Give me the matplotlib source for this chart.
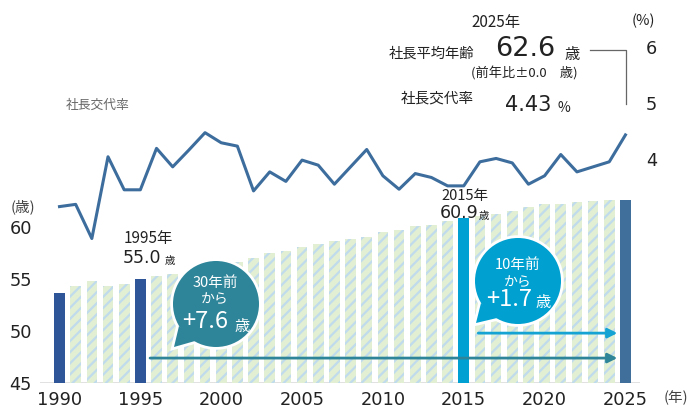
import matplotlib
matplotlib.use("Agg")
import matplotlib.pyplot as plt
from matplotlib.patches import Circle, Polygon

plt.rcParams['font.family'] = ['Noto Sans CJK JP', 'DejaVu Sans']
plt.rcParams['hatch.linewidth'] = 1.6

# ---------------- data ----------------
years = list(range(1990, 2026))
avg_age = [53.7, 54.3, 54.8, 54.3, 54.5, 55.0, 55.3, 55.5, 55.8, 56.0,
           56.3, 56.6, 57.0, 57.5, 57.7, 58.1, 58.4, 58.7, 58.9, 59.1,
           59.5, 59.7, 60.1, 60.2, 60.6, 60.9, 61.1, 61.3, 61.6, 61.9,
           62.2, 62.2, 62.4, 62.5, 62.6, 62.6]
turnover_rate = [3.15, 3.19, 2.58, 4.04, 3.45, 3.45, 4.19, 3.86, 4.16, 4.47,
                 4.29, 4.23, 3.43, 3.77, 3.60, 3.98, 3.89, 3.55, 3.86, 4.17,
                 3.70, 3.46, 3.74, 3.67, 3.52, 3.52, 3.95, 4.01, 3.93, 3.55,
                 3.70, 4.08, 3.77, 3.86, 3.95, 4.43]
highlight = {1990: '#2e5597', 1995: '#2e5597', 2015: '#00a0d3', 2025: '#3f6f9a'}
age_ticks = [45, 50, 55, 60]
rate_ticks = [4, 5, 6]
year_ticks = [1990, 1995, 2000, 2005, 2010, 2015, 2020, 2025]

# ---------------- figure ----------------
W, H = 689, 409
fig = plt.figure(figsize=(W / 100, H / 100), dpi=100)
L, R, B, T = 40, 640, 383, 20
ax = fig.add_axes([L / W, (H - B) / H, (R - L) / W, (B - T) / H])
px_per_year = 16.17
x0 = 1990 + (L - 59.5) / px_per_year
x1 = 1990 + (R - 59.5) / px_per_year
ax.set_xlim(x0, x1)
age_px = 10.39
ax.set_ylim(45, 45 + (B - T) / age_px)

for y, a in zip(years, avg_age):
    if y in highlight:
        ax.bar(y, a, width=0.66, color=highlight[y], zorder=2)
    else:
        ax.bar(y, a, width=0.66, facecolor='#e2efd3', edgecolor='#c0dbec',
               hatch='///', linewidth=0, zorder=2)

ax.axhline(45, color='#dedede', lw=2, zorder=1)

for s in ax.spines.values():
    s.set_visible(False)
ax.set_yticks(age_ticks)
ax.set_yticklabels([str(t) for t in age_ticks], family='DejaVu Sans', fontsize=12.8, color='#222222')
ax.set_xticks(year_ticks)
ax.set_xticklabels([str(t) for t in year_ticks], family='DejaVu Sans', fontsize=12.8, color='#222222')
ax.tick_params(axis='y', length=0, pad=5.8)
ax.tick_params(axis='x', length=0, pad=5.5)

# arrows
ax.annotate('', xy=(2024.5, 47.4), xytext=(1995.6, 47.4),
            arrowprops=dict(arrowstyle='-|>', color='#2e8599', lw=2,
                            mutation_scale=14, shrinkA=0, shrinkB=0), zorder=3)
ax.annotate('', xy=(2024.5, 49.8), xytext=(2015.9, 49.8),
            arrowprops=dict(arrowstyle='-|>', color='#14a3d3', lw=2,
                            mutation_scale=14, shrinkA=0, shrinkB=0), zorder=3)

# rate line
ax2 = ax.twinx()
ax2.set_ylim(0, (B - T) / 56)
ax2.plot(years, turnover_rate, color='#3d6d9d', lw=2.2, zorder=4)
for s in ax2.spines.values():
    s.set_visible(False)
ax2.set_yticks(rate_ticks)
ax2.set_yticklabels([str(t) for t in rate_ticks], family='DejaVu Sans', fontsize=12.8, color='#222222')
ax2.tick_params(axis='y', length=0, pad=4.3)

# ---------------- overlay (pixel coords) ----------------
ov = fig.add_axes([0, 0, 1, 1])
ov.set_xlim(0, W)
ov.set_ylim(H, 0)
ov.axis('off')
ov.patch.set_alpha(0)
ov.set_zorder(10)

def bubble(cx, cy, r, tail, color):
    for z, ec, lw in [(1, 'white', 4), (2, color, 0)]:
        fc = color if z == 2 else 'white'
        ov.add_patch(Circle((cx, cy), r, facecolor=fc, edgecolor=ec, lw=lw, zorder=z))
        ov.add_patch(Polygon(tail, closed=True, facecolor=fc, edgecolor=ec,
                             lw=lw, zorder=z, joinstyle='miter'))

bubble(216, 304, 43, [(179, 326), (195, 341), (174, 347)], '#2e8599')
bubble(518, 281, 43, [(481, 303), (497, 318), (476, 323)], '#00a1d0')

wt = dict(color='white', ha='center', va='center')
ov.text(215, 283, '30年前', fontsize=10.5, **wt)
ov.text(215, 299, 'から', fontsize=10, **wt)
ov.text(205, 321, '+7.6', fontsize=17, **wt)
ov.text(242, 326, '歳', fontsize=11, **wt)
ov.text(518, 265, '10年前', fontsize=10.5, **wt)
ov.text(518, 282, 'から', fontsize=10, **wt)
ov.text(509, 300, '+1.7', fontsize=17, **wt)
ov.text(543, 302, '歳', fontsize=11, **wt)

dk = '#222222'
ov.text(148, 239, '1995年', fontsize=11, color=dk, ha='center', va='center')
ov.text(142, 258, '55.0', fontsize=12.5, family='DejaVu Sans', color=dk, ha='center', va='center')
ov.text(170, 261, '歳', fontsize=7.5, color=dk, ha='center', va='center')
ov.text(465, 196, '2015年', fontsize=10.5, color=dk, ha='center', va='center')
ov.text(459, 213, '60.9', fontsize=12.5, family='DejaVu Sans', color=dk, ha='center', va='center')
ov.text(484, 216, '歳', fontsize=7.5, color=dk, ha='center', va='center')

ov.text(23, 207, '(歳)', fontsize=10.5, color='#444444', ha='center', va='center')
ov.text(676, 398, '(年)', fontsize=10.5, color='#444444', ha='center', va='center')
ov.text(643, 21, '(%)', fontsize=10.5, color=dk, ha='center', va='center')

ov.text(98, 105, '社長交代率', fontsize=9.2, color='#666666', ha='center', va='center')
ov.text(496, 23, '2025年', fontsize=11, color=dk, ha='center', va='center')
ov.text(431, 54, '社長平均年齢', fontsize=10.3, color=dk, ha='center', va='center')
ov.text(525, 49, '62.6', fontsize=19.5, family='DejaVu Sans', color=dk, ha='center', va='center')
ov.text(572, 54, '歳', fontsize=11, color=dk, ha='center', va='center')
ov.text(524, 74, '(前年比±0.0　歳)', fontsize=9.5, color=dk, ha='center', va='center')
ov.text(437, 99, '社長交代率', fontsize=10.5, color=dk, ha='center', va='center')
ov.text(528, 105, '4.43', fontsize=15, family='DejaVu Sans', color=dk, ha='center', va='center')
ov.text(564, 108, '%', fontsize=10, color=dk, ha='center', va='center')
ov.plot([590, 626, 626], [50, 50, 104], color='#666666', lw=0.9)

fig.savefig('out.png', dpi=100)
